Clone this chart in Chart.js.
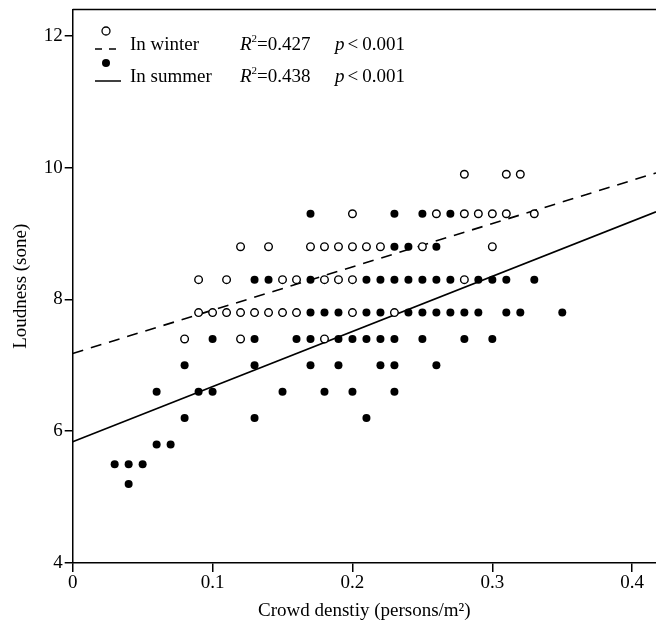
<!DOCTYPE html>
<html>
<head>
<meta charset="utf-8">
<script src="https://cdn.jsdelivr.net/npm/chart.js@4.4.1/dist/chart.umd.min.js"></script>
<style>
  body { margin: 0; background: #fff; }
  canvas { display: block; }
</style>
</head>
<body>
<canvas id="scatter" width="656" height="635"></canvas>
<script>
// loudness levels and the crowd densities observed at each level
var winterPoints = [
    [9.9, [0.28, 0.31, 0.32]],
    [9.3, [0.20, 0.26, 0.28, 0.29, 0.30, 0.31, 0.33]],
    [8.8, [0.12, 0.14, 0.17, 0.18, 0.19, 0.20, 0.21, 0.22, 0.25, 0.30]],
    [8.3, [0.09, 0.11, 0.15, 0.16, 0.18, 0.19, 0.20, 0.28]],
    [7.8, [0.09, 0.10, 0.11, 0.12, 0.13, 0.14, 0.15, 0.16, 0.20, 0.23]],
    [7.4, [0.08, 0.12, 0.18]]
];
var summerPoints = [
    [9.3, [0.17, 0.23, 0.25, 0.27]],
    [8.8, [0.23, 0.24, 0.26]],
    [8.3, [0.13, 0.14, 0.17, 0.21, 0.22, 0.23, 0.24, 0.25, 0.26, 0.27, 0.29, 0.30, 0.31, 0.33]],
    [7.8, [0.17, 0.18, 0.19, 0.21, 0.22, 0.24, 0.25, 0.26, 0.27, 0.28, 0.29, 0.31, 0.32, 0.35]],
    [7.4, [0.10, 0.13, 0.16, 0.17, 0.19, 0.20, 0.21, 0.22, 0.23, 0.25, 0.28, 0.30]],
    [7.0, [0.08, 0.13, 0.17, 0.19, 0.22, 0.23, 0.26]],
    [6.6, [0.06, 0.09, 0.10, 0.15, 0.18, 0.20, 0.23]],
    [6.2, [0.08, 0.13, 0.21]],
    [5.8, [0.06, 0.07]],
    [5.5, [0.03, 0.04, 0.05]],
    [5.2, [0.04]]
];

// fitted lines, end points
var winterFit = [[0, 7.18], [0.417, 9.92]];
var summerFit = [[0, 5.84], [0.417, 9.33]];

var xTicks = [0, 0.1, 0.2, 0.3, 0.4];
var yTicks = [4, 6, 8, 10, 12];

var legendRows = [
    { name: 'In winter', r2: '0.427', p: '0.001' },
    { name: 'In summer', r2: '0.438', p: '0.001' }
];

function toXY(rows) {
    var out = [];
    rows.forEach(function(r) {
        r[1].forEach(function(x) { out.push({ x: x, y: r[0] }); });
    });
    return out;
}
function fitXY(f) {
    return f.map(function(p) { return { x: p[0], y: p[1] }; });
}

var serif = '"Liberation Serif", "Times New Roman", serif';

// legend + top frame line
var extras = {
    id: 'extras',
    afterDraw: function(chart) {
        var ctx = chart.ctx;
        var a = chart.chartArea;
        ctx.save();
        ctx.strokeStyle = '#000';
        ctx.lineWidth = 1.5;
        ctx.beginPath();
        ctx.moveTo(a.left, a.top);
        ctx.lineTo(chart.width, a.top);
        ctx.stroke();

        var rowsY = [31, 63];
        ctx.fillStyle = '#000';
        ctx.textBaseline = 'alphabetic';
        legendRows.forEach(function(row, i) {
            var cy = rowsY[i];
            // marker
            ctx.beginPath();
            ctx.arc(106, cy, 4, 0, Math.PI * 2);
            if (i === 0) {
                ctx.lineWidth = 1.3;
                ctx.fillStyle = '#fff';
                ctx.fill();
                ctx.stroke();
            } else {
                ctx.fillStyle = '#000';
                ctx.fill();
            }
            // line sample
            ctx.lineWidth = 1.5;
            ctx.setLineDash(i === 0 ? [7, 7] : []);
            ctx.beginPath();
            ctx.moveTo(95, cy + 18);
            ctx.lineTo(121, cy + 18);
            ctx.stroke();
            ctx.setLineDash([]);

            var base = cy + 19;
            ctx.fillStyle = '#000';
            ctx.font = '19px ' + serif;
            ctx.fillText(row.name, 130, base);
            var x = 240;
            ctx.font = 'italic 19px ' + serif;
            ctx.fillText('R', x, base);
            x += ctx.measureText('R').width;
            ctx.font = '11px ' + serif;
            ctx.fillText('2', x, base - 8);
            x += ctx.measureText('2').width;
            ctx.font = '19px ' + serif;
            ctx.fillText('=' + row.r2, x, base);
            x = 335;
            ctx.font = 'italic 19px ' + serif;
            ctx.fillText('p', x, base);
            x += ctx.measureText('p').width + 3;
            ctx.font = '19px ' + serif;
            ctx.fillText('<', x, base);
            x += ctx.measureText('<').width + 4;
            ctx.fillText(row.p, x, base);
        });
        ctx.restore();
    }
};

var ctx = document.getElementById('scatter').getContext('2d');
var myChart = new Chart(ctx, {
    type: 'scatter',
    data: {
        datasets: [
            {
                label: 'In winter',
                data: toXY(winterPoints),
                pointRadius: 3.8,
                pointBorderWidth: 1.4,
                pointBackgroundColor: '#fff',
                pointBorderColor: '#000'
            },
            {
                label: 'In summer',
                data: toXY(summerPoints),
                pointRadius: 4,
                pointBorderWidth: 0,
                pointBackgroundColor: '#000',
                pointBorderColor: '#000'
            },
            {
                type: 'line',
                label: 'winter fit',
                data: fitXY(winterFit),
                borderColor: '#000',
                borderWidth: 1.6,
                borderDash: [11, 8],
                pointRadius: 0,
                fill: false
            },
            {
                type: 'line',
                label: 'summer fit',
                data: fitXY(summerFit),
                borderColor: '#000',
                borderWidth: 1.6,
                pointRadius: 0,
                fill: false
            }
        ]
    },
    options: {
        responsive: false,
        animation: false,
        layout: { autoPadding: false, padding: { top: 9.5, right: 0, left: 0, bottom: 0 } },
        plugins: {
            legend: { display: false },
            tooltip: { enabled: false }
        },
        scales: {
            x: {
                type: 'linear',
                min: 0,
                max: 0.417,
                afterBuildTicks: function(scale) {
                    scale.ticks = xTicks.map(function(v) { return { value: v }; });
                },
                afterFit: function(scale) {
                    scale.height = 72;
                    scale.paddingLeft = 0;
                    scale.paddingRight = 0;
                },
                border: { display: true, color: '#000', width: 1.5 },
                grid: { display: true, drawOnChartArea: false, drawTicks: true, tickLength: 9, color: '#000', lineWidth: 1.5 },
                ticks: {
                    color: '#000',
                    padding: 0,
                    font: { family: serif, size: 19 },
                    callback: function(v) { return String(v); }
                },
                title: {
                    display: true,
                    text: 'Crowd denstiy (persons/m²)',
                    color: '#000',
                    font: { family: serif, size: 19 },
                    padding: { top: 4, bottom: 13 }
                }
            },
            y: {
                type: 'linear',
                min: 4,
                max: 12.4,
                afterBuildTicks: function(scale) {
                    scale.ticks = yTicks.map(function(v) { return { value: v }; });
                },
                afterFit: function(scale) {
                    scale.width = 72.7;
                    scale.paddingTop = 0;
                    scale.paddingBottom = 0;
                },
                border: { display: true, color: '#000', width: 1.5 },
                grid: { display: true, drawOnChartArea: false, drawTicks: true, tickLength: 8, color: '#000', lineWidth: 1.5 },
                ticks: {
                    color: '#000',
                    padding: 2,
                    font: { family: serif, size: 19 }
                },
                title: {
                    display: true,
                    text: 'Loudness (sone)',
                    color: '#000',
                    font: { family: serif, size: 19 },
                    padding: { top: 10, bottom: 0 }
                }
            }
        }
    },
    plugins: [extras]
});
</script>
</body>
</html>
